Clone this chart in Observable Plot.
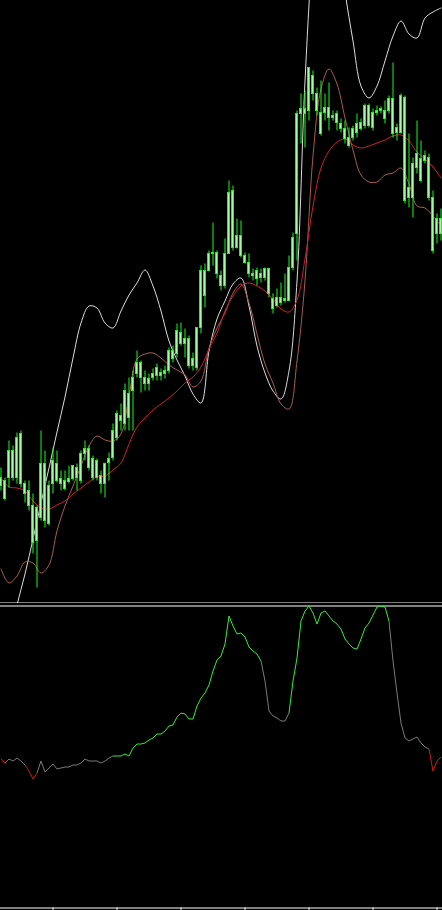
<!DOCTYPE html>
<html><head><meta charset="utf-8">
<script src="https://cdn.jsdelivr.net/npm/d3@7"></script>
<script src="https://cdn.jsdelivr.net/npm/@observablehq/plot@0.6"></script>
<style>html,body{margin:0;padding:0;background:#000;overflow:hidden;} #chart svg{display:block;}</style>
</head><body><div id="chart"></div>
<script>
// OHLC price bars (arbitrary price units)
const open  = [123,102,123,150,123,167,117,110,95,60, 83,137,77,117,137,122,112,119,122,133, 120,147,152,142,123,125,117,138,143,163, 185,177,183,210,227,238,223,217,223,233, 225,227,230,242,247,268,257,262,235,233, 273,305,330,347,348,325,315,347,410,353, 365,345,338,327,322,327,323,332,302,295, 303,300,300,333,367,487,492,490,525,507, 488,488,493,485,487,477,472,455,463,468, 472,475,495,473,488,490,490,490,502,468, 468,503,403,403,433,442,440,443,403,367, 382];
const high  = [133,123,160,155,168,170,120,120,107,95, 170,150,120,153,150,130,130,135,135,137, 150,160,155,145,142,130,138,148,177,190, 197,217,223,230,250,240,230,227,232,237, 232,235,253,255,277,278,272,265,248,273, 335,337,350,378,350,330,362,420,415,382, 380,348,347,332,333,332,333,332,307,312, 318,327,345,368,490,507,510,533,530,513, 520,507,518,490,490,482,480,473,475,487, 482,497,497,492,495,494,500,505,538,477, 507,505,467,443,480,460,450,447,410,387, 392];
const low   = [110,100,113,120,117,113,98,90,47,13, 80,73,75,107,118,110,110,117,120,110, 117,140,130,120,120,107,103,120,140,160, 170,170,170,170,223,208,210,210,220,220, 220,222,227,238,243,255,243,232,230,230, 267,293,330,335,322,310,312,347,350,352, 343,337,323,320,315,318,320,303,287,293, 295,298,300,330,340,457,453,480,500,485, 465,480,470,480,470,468,457,453,460,463, 470,472,473,470,485,487,477,487,463,460, 467,397,393,383,427,418,437,400,347,357, 360];
const close = [115,120,150,123,163,117,107,95,58,93, 137,80,115,140,120,117,120,122,135,123, 147,152,133,123,140,117,137,142,170,187, 180,210,207,223,238,223,217,222,227,225, 228,230,250,250,270,257,262,235,242,273, 330,330,347,348,327,315,347,408,353,365, 345,338,327,325,330,323,332,307,292,303, 298,302,333,363,487,492,487,533,507,490, 467,493,483,483,478,472,462,463,472,477, 478,495,475,488,490,492,482,502,467,473, 505,400,413,437,447,420,445,403,350,382, 367];

// Overlay lines, one value every 2 bars
const upperBand = [-80,-40,-4,27,62,98,133,169,204,243,278,295,293,278,273,290,306,318,331,315,290,260,241,225,207,198,250,282,300,317,323,295,255,228,210,202,230,320,520,650,710,715,680,610,560,515,503,515,540,565,580,567,563,583,589,593];
const fastMA    = [32,18,25,39,38,28,36,70,95,115,135,155,165,161,160,167,205,242,247,248,243,236,231,226,214,220,253,273,288,308,317,298,267,237,218,197,192,240,320,445,512,532,517,483,451,426,419,419,426,428,433,417,395,393,385,375];
const slowMA    = [123,114,113,110,100,93,92,96,100,107,113,119,124,125,131,138,157,174,183,191,197,203,210,218,224,234,252,268,290,305,315,318,315,310,302,292,289,301,342,395,433,450,459,462,456,453,455,458,461,465,466,460,449,442,434,423];

// Lower-panel oscillator, one value per bar
const oscillator = [149,145,149,147,150,147,143,137,129,135, 147,136,140,144,139,140,141,141,143,143, 145,149,147,147,147,145,147,150,152,152, 152,154,152,160,164,164,165,168,170,174, 174,177,182,183,191,195,194,189,189,202, 210,215,223,237,248,252,264,292,282,274, 275,271,261,257,254,247,227,197,192,190, 187,187,195,227,250,287,297,302,295,284, 295,297,292,287,284,279,269,264,260,259, 269,280,285,293,301,302,301,287,247,215, 185,170,167,169,171,165,161,159,137,147, 151];
// Oscillator state runs: u = rising (green), n = neutral (gray), d = falling (red)
const trendRuns = [["n",1],["d",1],["n",5],["d",3],["n",19],["u",37],["n",7],["u",25],["n",10],["d",3]];
const xTicks = [13,29,45,61,77,93,109];

const bars = d3.range(open.length);
const lineBars = d3.range(0, 111, 2);
const candles = bars.map(i => ({i, o: open[i], h: high[i], l: low[i], c: close[i]}));
const states = trendRuns.flatMap(([s, n]) => Array(n).fill(s));
const stateColor = {u: "#33ee33", n: "#7a7a7a", d: "#d01818"};
const segs = d3.range(1, oscillator.length).map(i => ({x1: i - 1, y1: oscillator[i - 1], x2: i, y2: oscillator[i], s: states[i]}));

const GREEN = "#11ff11";
const xOpt = {domain: [-0.125, 110.375], range: [0, 442], axis: null};

const topPlot = Plot.plot({
  width: 442, height: 603, margin: 0,
  x: xOpt,
  y: {domain: [0, 600], range: [600.5, 0.5], axis: null},
  color: {type: "identity"},
  style: {background: "#000", overflow: "hidden"},
  marks: [
    Plot.line(lineBars, {x: d => d, y: (d, k) => upperBand[k], stroke: "#dcdcdc", strokeWidth: 1, curve: "catmull-rom", clip: true}),
    Plot.line(lineBars, {x: d => d, y: (d, k) => fastMA[k], stroke: "#a85c50", strokeWidth: 1, curve: "catmull-rom", clip: true}),
    Plot.line(lineBars, {x: d => d, y: (d, k) => slowMA[k], stroke: "#cc2030", strokeWidth: 1, curve: "catmull-rom", clip: true}),
    Plot.ruleX(candles, {x: "i", y1: "l", y2: "h", stroke: GREEN, strokeWidth: 1}),
    Plot.rect(candles, {x1: d => d.i - 0.25, x2: d => d.i + 0.25, y1: d => Math.min(d.o, d.c), y2: d => Math.max(d.o, d.c), fill: "#9cff9c", stroke: GREEN, strokeWidth: 1}),
    Plot.ruleY([-2], {stroke: "#ffffff", strokeWidth: 1})
  ]
});

const bottomPlot = Plot.plot({
  width: 442, height: 307, margin: 0,
  x: xOpt,
  y: {domain: [0, 302], range: [304.5, 2.5], axis: null},
  color: {type: "identity"},
  style: {background: "#000", overflow: "hidden"},
  marks: [
    Plot.ruleY([302], {stroke: "#ffffff", strokeWidth: 1}),
    Plot.link(segs, {x1: "x1", y1: "y1", x2: "x2", y2: "y2", stroke: d => stateColor[d.s], strokeWidth: 1}),
    Plot.ruleY([0], {stroke: "#ffffff", strokeWidth: 1}),
    Plot.ruleX(xTicks, {x: d => d, y1: () => 0, y2: () => -3, stroke: "#ffffff", strokeWidth: 1})
  ]
});

const el = document.getElementById("chart");
el.appendChild(topPlot);
el.appendChild(bottomPlot);
</script>
</body></html>
